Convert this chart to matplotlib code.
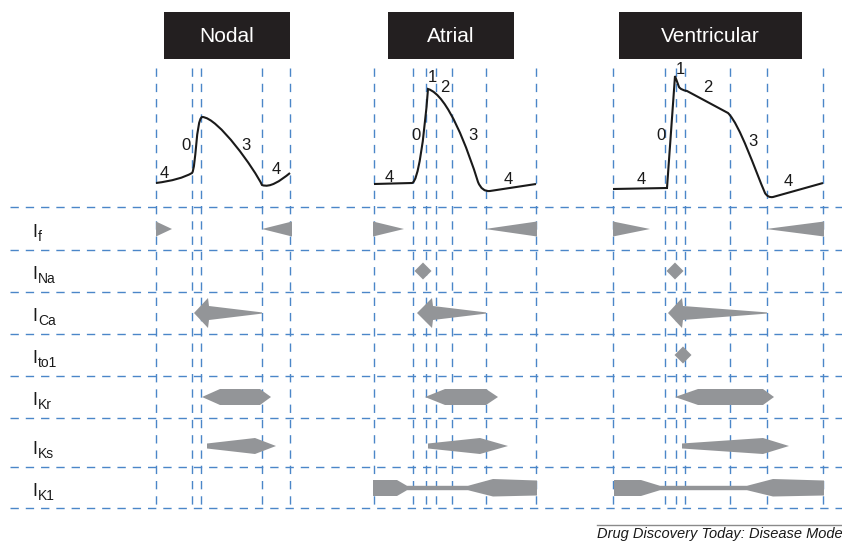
import matplotlib
matplotlib.use('Agg')
import matplotlib.pyplot as plt
from matplotlib.path import Path
from matplotlib.patches import PathPatch, Polygon, Rectangle

plt.rcParams['font.family'] = ['Liberation Sans', 'DejaVu Sans']
plt.rcParams['lines.scale_dashes'] = False

# layout is in pixel units of the 842x543 canvas
panels = ['Nodal', 'Atrial', 'Ventricular']
title_span = [(164, 290), (388, 514), (619, 802)]
phase_lines = [
    [156, 192, 201, 262, 290],
    [374, 413, 426, 436, 452, 486, 536],
    [613, 665, 676, 685, 730, 767, 823],
]
grid_rows = [207, 250, 292, 334, 376, 418, 467, 508]
currents = ['f', 'Na', 'Ca', 'to1', 'Kr', 'Ks', 'K1']
row_mid = [229, 271, 313, 355, 397, 446, 488]

# action potential traces: (path code, points)
ap_traces = [
    [('M', [(156, 183)]),
     ('C3', [(180, 180), (192, 173)]),
     ('C4', [(196, 168), (196, 120), (202, 117)]),
     ('C4', [(218, 117), (255, 170), (262, 185)]),
     ('C4', [(270, 188), (280, 181), (290, 173)])],
    [('M', [(374, 184)]),
     ('L', [(412, 183)]),
     ('C4', [(418, 182), (424, 140), (428, 89)]),
     ('C4', [(448, 95), (468, 150), (478, 182)]),
     ('C3', [(482, 192), (490, 191)]),
     ('L', [(536, 184)])],
    [('M', [(613, 189)]),
     ('L', [(667, 188)]),
     ('L', [(675, 76)]),
     ('L', [(679, 87)]),
     ('C3', [(681, 90), (687, 91)]),
     ('L', [(728, 113)]),
     ('C4', [(740, 125), (755, 170), (765, 193)]),
     ('C3', [(768, 198), (773, 197)]),
     ('L', [(823, 183)])],
]
phase_labels = [
    [('4', 164, 173), ('0', 186, 145), ('3', 246, 145), ('4', 276, 170)],
    [('1', 432, 78), ('2', 445, 88), ('0', 416, 135), ('3', 473, 135),
     ('4', 389, 177), ('4', 508, 180)],
    [('1', 680, 70), ('2', 708, 87), ('0', 661, 135), ('3', 753, 142),
     ('4', 641, 180), ('4', 788, 182)],
]

# current bars, one entry per panel
if_tri = [[(156, 172), (292, 262)], [(373, 404), (537, 485)], [(613, 650), (824, 766)]]
na_diamond = [None, 423, 675]
ca_arrow = [(194, 208, 262), (417, 432, 486), (668, 682, 767)]
to1_diamond = [None, None, 683]
kr_hex = [(202, 220, 260, 271), (425, 445, 486, 498), (675, 698, 763, 774)]
ks_wedge = [(207, 255, 276), (428, 480, 508), (682, 763, 789)]
k1_bar = [None, (373, 397, 407, 468, 493, 537), (614, 641, 660, 747, 773, 824)]

GREY = '#939598'
BLUE = '#4b86c8'
INK = '#1a1a1a'
DASH = (0, (6.0, 5.0))

code_map = {'M': Path.MOVETO, 'L': Path.LINETO, 'C3': Path.CURVE3, 'C4': Path.CURVE4}


def trace_path(segments):
    verts, codes = [], []
    for code, pts in segments:
        for p in pts:
            verts.append(p)
            codes.append(code_map[code])
    return Path(verts, codes)


def shape(ax, pts):
    ax.add_patch(Polygon(pts, closed=True, facecolor=GREY, edgecolor='none', zorder=3))


def diamond(ax, cx, y, h=8.5):
    shape(ax, [(cx - h, y), (cx, y - h), (cx + h, y), (cx, y + h)])


fig = plt.figure(figsize=(8.42, 5.43), dpi=100)
ax = fig.add_axes([0, 0, 1, 1])
ax.set_xlim(0, 842)
ax.set_ylim(543, 0)
ax.axis('off')

# grid
for y in grid_rows:
    ax.plot([10, 842], [y, y], color=BLUE, lw=1.0, linestyle=DASH, zorder=1)
for xs in phase_lines:
    for x in xs:
        ax.plot([x, x], [68, grid_rows[-1]], color=BLUE, lw=1.0, linestyle=DASH, zorder=1)

# headers and action potentials
for i, name in enumerate(panels):
    x0, x1 = title_span[i]
    ax.add_patch(Rectangle((x0, 12), x1 - x0, 47, facecolor='#231f20', edgecolor='none', zorder=2))
    ax.text((x0 + x1) / 2, 36, name, color='white', fontsize=15, ha='center', va='center', zorder=3)
    ax.add_patch(PathPatch(trace_path(ap_traces[i]), facecolor='none', edgecolor=INK,
                           lw=1.5, zorder=3))
    for lab, x, y in phase_labels[i]:
        ax.text(x, y, lab, fontsize=12, ha='center', va='center', color=INK, zorder=4)

# row labels: I with a lowered subscript
for name, y in zip(currents, row_mid):
    ax.text(32, y + 8, 'I', fontsize=13, ha='left', va='baseline', color=INK)
    ax.text(38, y + 12, name, fontsize=10, ha='left', va='baseline', color=INK)

for i in range(3):
    y = row_mid[0]
    for base, tip in if_tri[i]:
        shape(ax, [(base, y - 7.5), (base, y + 7.5), (tip, y)])

    if na_diamond[i] is not None:
        diamond(ax, na_diamond[i], row_mid[1])

    xt, xb, xe = ca_arrow[i]
    y = row_mid[2]
    shape(ax, [(xt, y), (xb, y - 15), (xb + 1, y - 7), (xe, y - 0.6),
               (xe, y + 0.6), (xb + 1, y + 7), (xb, y + 15)])

    if to1_diamond[i] is not None:
        diamond(ax, to1_diamond[i], row_mid[3])

    a, b, c, d = kr_hex[i]
    y = row_mid[4]
    shape(ax, [(a, y), (b, y - 8), (c, y - 8), (d, y), (c, y + 8), (b, y + 8)])

    a, b, c = ks_wedge[i]
    y = row_mid[5]
    shape(ax, [(a, y - 2.5), (b, y - 8), (c, y), (b, y + 8), (a, y + 2.5)])

    if k1_bar[i] is not None:
        x0, x1, x2, x3, x4, x5 = k1_bar[i]
        y = row_mid[6]
        shape(ax, [(x0, y - 8), (x1, y - 8), (x2, y - 2.2), (x3, y - 2.2), (x4, y - 9),
                   (x5, y - 7.5), (x5, y + 7.5), (x4, y + 8.5), (x3, y + 2.2),
                   (x2, y + 2.2), (x1, y + 8), (x0, y + 8)])

# source line
ax.plot([597, 842], [525, 525], color='#8a8a8a', lw=1.0)
ax.text(597, 538, 'Drug Discovery Today: Disease Models', fontsize=10.5, style='italic',
        ha='left', va='baseline', color=INK)

fig.savefig('out.png', dpi=100)
